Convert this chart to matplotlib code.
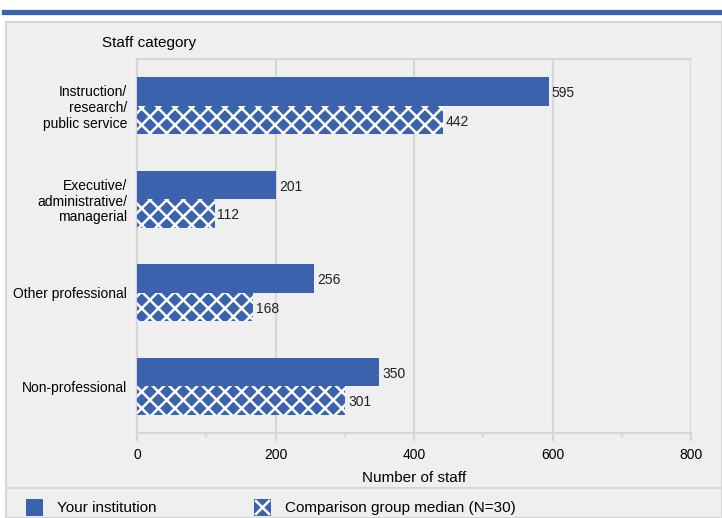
import matplotlib
matplotlib.use("Agg")
import matplotlib.pyplot as plt
import numpy as np
from matplotlib.patches import Rectangle
from matplotlib.lines import Line2D

plt.rcParams['font.family'] = ['Liberation Sans', 'DejaVu Sans']
plt.rcParams['hatch.linewidth'] = 1.8

categories = ["Instruction/\nresearch/\npublic service",
              "Executive/\nadministrative/\nmanagerial",
              "Other professional",
              "Non-professional"]
institution = [595, 201, 256, 350]
comparison = [442, 112, 168, 301]
xticks = [0, 200, 400, 600, 800]

blue = "#3B62AD"
panel = "#EFEFEF"
line_c = "#D6D6D6"

W, H = 722, 518
fig = plt.figure(figsize=(W / 100, H / 100), dpi=100)
fig.patch.set_facecolor("white")

def fx(px):
    return px / W

def fy(py):
    return 1 - py / H

# background panel + top rule
fig.patches.append(Rectangle((fx(6), 0), 1 - fx(6), fy(22), transform=fig.transFigure,
                             facecolor=panel, edgecolor=line_c, lw=1.5, zorder=-5))
fig.lines.append(Line2D([fx(4), 1], [fy(11.5), fy(11.5)], transform=fig.transFigure,
                        color=blue, lw=3.8, zorder=-4))
fig.lines.append(Line2D([fx(6), 1], [fy(488), fy(488)], transform=fig.transFigure,
                        color=line_c, lw=1.5, zorder=-4))

ax = fig.add_axes([fx(137), fy(433), fx(691) - fx(137), fy(59) - fy(433)])
ax.set_zorder(1)
ax.set_facecolor(panel)

y = np.arange(len(categories))
h = 0.305
ax.barh(y - h / 2, institution, height=h, color=blue, lw=0, zorder=3)
ax.barh(y + h / 2, comparison, height=h, color=blue, edgecolor="white",
        hatch="xx", lw=0, zorder=3)

for i in range(len(categories)):
    ax.text(institution[i] + 4, y[i] - h / 2 + 0.02, str(institution[i]), va="center",
            ha="left", fontsize=10, color="#222222")
    ax.text(comparison[i] + 4, y[i] + h / 2 + 0.02, str(comparison[i]), va="center",
            ha="left", fontsize=10, color="#222222")

ax.set_xlim(0, 800)
ax.set_ylim(3.5, -0.5)
ax.set_xticks(xticks)
ax.set_xticks(range(100, 800, 200), minor=True)
ax.set_yticks(y)
ax.set_yticklabels(categories, fontsize=10, linespacing=1.15)
ax.tick_params(axis="y", length=0, pad=7)
ax.tick_params(axis="x", which="major", length=6, width=1.5, color=line_c,
               labelsize=10, pad=5)
ax.tick_params(axis="x", which="minor", length=3, width=1.5, color=line_c)
ax.grid(axis="x", color=line_c, lw=1.5, zorder=0)
for s in ax.spines.values():
    s.set_color(line_c)
    s.set_linewidth(1.5)
ax.spines["right"].set_visible(False)

ax.set_xlabel("Number of staff", fontsize=11, labelpad=6)
fig.text(fx(102), fy(43.5), "Staff category", fontsize=11, va="center", ha="left")

# legend
fig.patches.append(Rectangle((fx(26), fy(516)), fx(17), 17 / H, transform=fig.transFigure,
                             facecolor=blue, lw=0))
fig.text(fx(57), fy(508), "Your institution", fontsize=11, va="center", ha="left")
fig.patches.append(Rectangle((fx(254), fy(516)), fx(17), 17 / H, transform=fig.transFigure,
                             facecolor=blue, lw=0))
for a, b in [((256, 501), (269, 514)), ((256, 514), (269, 501))]:
    fig.lines.append(Line2D([fx(a[0]), fx(b[0])], [fy(a[1]), fy(b[1])],
                            transform=fig.transFigure, color="white", lw=1.8))
fig.text(fx(285), fy(508), "Comparison group median (N=30)", fontsize=11,
         va="center", ha="left")

fig.savefig("out.png", dpi=100)
